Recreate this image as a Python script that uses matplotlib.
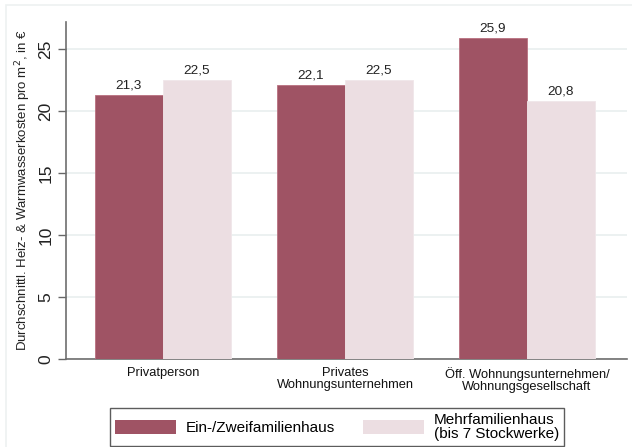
import numpy as np
import matplotlib
matplotlib.use("Agg")
from matplotlib import pyplot as plt
from matplotlib.patches import Patch, Rectangle

plt.rcParams['font.family'] = ['Liberation Sans', 'DejaVu Sans']

categories = ["Privatperson", "Privates\nWohnungsunternehmen",
              "Öff. Wohnungsunternehmen/\nWohnungsgesellschaft"]
ein_zwei = [21.3, 22.1, 25.9]
mehr = [22.5, 22.5, 20.8]
series_names = ["Ein-/Zweifamilienhaus", "Mehrfamilienhaus\n(bis 7 Stockwerke)"]
yticks = [0, 5, 10, 15, 20, 25]

dark = "#9F5364"
light = "#ECDEE2"

fig = plt.figure(figsize=(6.32, 4.47), dpi=100)
ax = fig.add_axes([66/632, 1-359/447, (627-66)/632, (359-22)/447])

# faint outer frame like the stata graph region
fig.patches.append(Rectangle((6/632, -0.1), 1.2, 1.1 - 5/447, transform=fig.transFigure,
                             fill=False, edgecolor="#EDF1F1", lw=1.2))

x = np.arange(len(categories))
w = 0.374
b1 = ax.bar(x - w/2, ein_zwei, w, color=dark, edgecolor="#B9707F", lw=0.6, zorder=3)
b2 = ax.bar(x + w/2, mehr, w, color=light, edgecolor="#F0E6E9", lw=0.6, zorder=3)

for bars, vals in [(b1, ein_zwei), (b2, mehr)]:
    for r, v in zip(bars, vals):
        ax.annotate(f"{v:.1f}".replace(".", ","), (r.get_x() + r.get_width()/2, v),
                    xytext=(0, 2.5), textcoords="offset points", ha="center", va="bottom",
                    fontsize=9.7, color="#222222")

ax.set_xlim(-0.533, 2.55)
ax.set_ylim(0, 27.2)
ax.set_yticks(yticks)
ax.set_yticklabels([str(t) for t in yticks], rotation=90, va="center", fontsize=12.5, color="#222222")
ax.tick_params(axis="y", length=6, width=1, color="#666666", pad=3)
ax.set_xticks(x)
ax.set_xticklabels(categories, fontsize=9.3, linespacing=0.95, color="#111111")
ax.tick_params(axis="x", length=0, pad=6)

ax.grid(axis="y", color="#E9EFEF", lw=1.2, zorder=0)
for s in ["top", "right"]:
    ax.spines[s].set_visible(False)
for s in ["left", "bottom"]:
    ax.spines[s].set_color("#6E6E6E")
    ax.spines[s].set_linewidth(1.2)

ax.set_ylabel("Durchschnittl. Heiz- & Warmwasserkosten pro m$^2$, in €", fontsize=9.5,
              color="#222222", labelpad=4)

handles = [Patch(facecolor=dark, edgecolor="none"), Patch(facecolor=light, edgecolor="none")]
leg = fig.legend(handles, series_names, ncol=2, loc="lower center",
                 bbox_to_anchor=(337/632, 1/447), fontsize=11, frameon=True,
                 fancybox=False, edgecolor="#333333", handlelength=4.0, handleheight=1.0,
                 handletextpad=0.65, columnspacing=1.8, borderpad=0.35, borderaxespad=0,
                 labelspacing=0.2)
leg.get_frame().set_linewidth(1.0)
for t in leg.get_texts():
    t.set_linespacing(0.95)

fig.savefig("out.png", dpi=100)
